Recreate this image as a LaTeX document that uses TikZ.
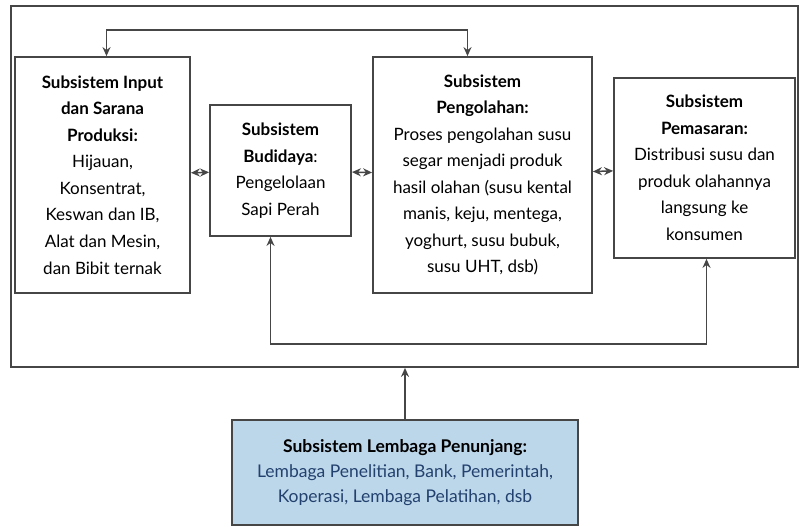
\documentclass[tikz,border=0pt]{standalone}
\usepackage{fontspec}
\setmainfont{Lato}
\usetikzlibrary{arrows.meta, positioning}
\definecolor{boxline}{RGB}{70,70,70}
\definecolor{lembagafill}{RGB}{188,214,234}
\definecolor{lembagatext}{RGB}{35,65,110}
\tikzset{
	block/.style={draw=boxline, line width=1.8pt, align=center, inner sep=2pt,
		font=\fontsize{17}{26.5}\selectfont},
	frame/.style={draw=boxline, line width=1.8pt},
	link/.style={draw=boxline, line width=1.5pt, >={Stealth[length=9pt,width=8pt]}}
}
\begin{document}
\begin{tikzpicture}[x=1pt, y=-1pt]
		\useasboundingbox (0,0) rectangle (800,527);
		
		\node[frame, minimum width=787pt, minimum height=361pt] (outer) at (404.5,186.5) {};
		
		\node[block, minimum width=175pt, minimum height=236pt] (input) at (102.5,175)
			{\textbf{Subsistem Input}\\ \textbf{dan Sarana}\\ \textbf{Produksi:}\\ Hijauan,\\ Konsentrat,\\ Keswan dan IB,\\ Alat dan Mesin,\\ dan Bibit ternak};
		\node[block, minimum width=141pt, minimum height=131pt] (budidaya) at (280.5,170.5)
			{\textbf{Subsistem}\\ \textbf{Budidaya}:\\ Pengelolaan\\ Sapi Perah};
		\node[block, minimum width=219pt, minimum height=236pt] (olah) at (482.5,175)
			{\textbf{Subsistem}\\ \textbf{Pengolahan:}\\ Proses pengolahan susu\\ segar menjadi produk\\ hasil olahan (susu kental\\ manis, keju, mentega,\\ yoghurt, susu bubuk,\\ susu UHT, dsb)};
		\node[block, minimum width=181pt, minimum height=180pt] (pasar) at (704.5,168)
			{\textbf{Subsistem}\\ \textbf{Pemasaran:}\\ Distribusi susu dan\\ produk olahannya\\ langsung ke\\ konsumen};
		\node[block, fill=lembagafill, minimum width=346pt, minimum height=105pt,
			font=\fontsize{17.5}{25}\selectfont] (lembaga) at (405,472.5)
			{\textbf{Subsistem Lembaga Penunjang:}\\ \color{lembagatext}Lembaga Penelitian, Bank, Pemerintah,\\ \color{lembagatext}Koperasi, Lembaga Pelatihan, dsb};
		
		\draw[link, <->] (input) -- (budidaya);
		\draw[link, <->] (budidaya) -- (olah);
		\draw[link, <->] (olah) -- (pasar);
		\draw[link, <->] ([xshift=4pt]input.north) -- ++(0,-26) -| ([xshift=-15pt]olah.north);
		\draw[link, <->] ([xshift=-10pt]budidaya.south) -- ++(0,107) -| ([xshift=2pt]pasar.south);
		\draw[link, ->] (lembaga.north) -- (lembaga.north |- outer.south);
	\end{tikzpicture}
\end{document}
